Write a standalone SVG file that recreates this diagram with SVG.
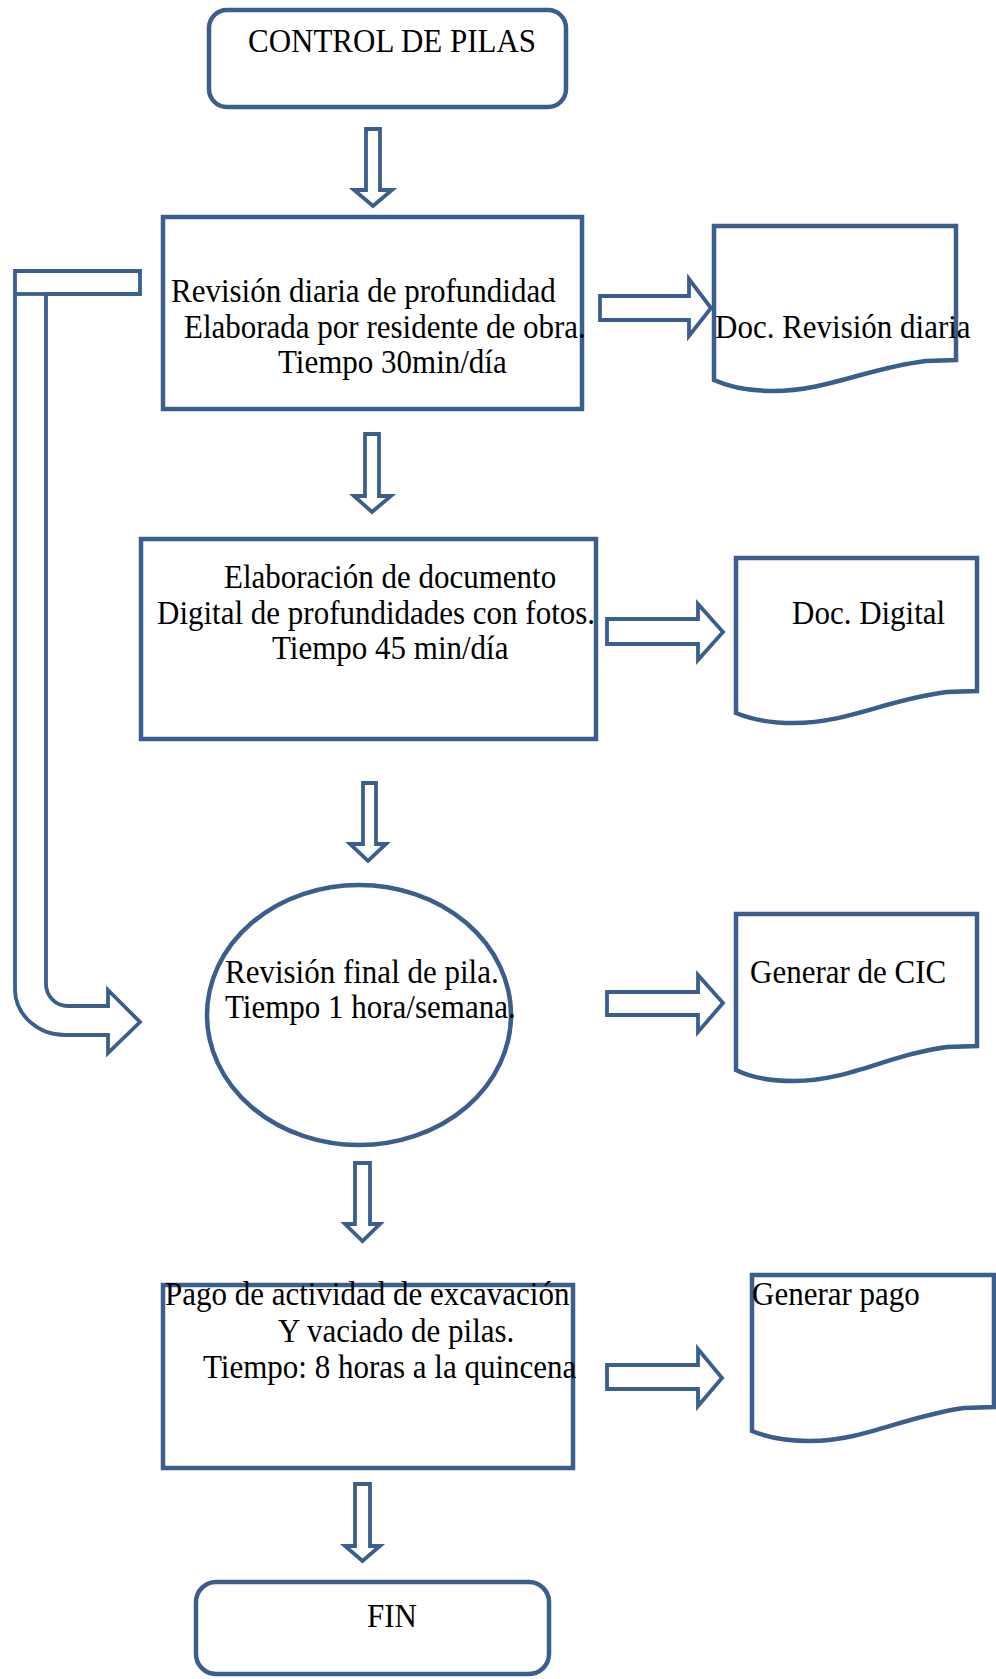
<svg xmlns="http://www.w3.org/2000/svg" width="996" height="1679" viewBox="0 0 996 1679">
<style>
.s{fill:#fff;stroke:#3B5E8C;stroke-width:4.5;stroke-linejoin:miter}
.a{fill:#fff;stroke:#3B5E8C;stroke-width:3.8;stroke-linejoin:miter}
.t{font-family:"Liberation Serif","Times New Roman",serif;font-size:31px;fill:#000}
</style>
<rect width="996" height="1679" fill="#fff"/>
<g id="connectors">
<path class="a" d="M366,129 H380 V190 H392 L373,206 L354,190 H366 Z"/>
<path class="a" d="M365,434 H379 V496 H391 L372,512 L354,496 H365 Z"/>
<path class="a" d="M363,783 H376 V844 H386 L368,861 L350,844 H363 Z"/>
<path class="a" d="M355,1163 H370 V1224 H380 L362.5,1241 L345,1224 H355 Z"/>
<path class="a" d="M355,1484 H370 V1546 H380 L362.5,1561 L345,1546 H355 Z"/>
<path class="a" d="M600,296 H689 V279 L711,308 L689,336 V320 H600 Z"/>
<path class="a" d="M607,619 H698 V604 L723,632 L698,660 V644 H607 Z"/>
<path class="a" d="M607,992 H698 V975 L723,1003 L698,1032 V1015 H607 Z"/>
<path class="a" d="M607,1365 H698 V1349 L722,1378 L698,1406 V1389 H607 Z"/>
<path class="a" d="M140,271 H15 V990 A50,46 0 0 0 65,1035 H108 V1053 L140,1022 L108,990 V1006 H68 A22,22 0 0 1 46,984 V294 H140 Z"/>
<path class="a" d="M15,294 H46" fill="none"/>
</g>
<g id="n1">
<rect class="s" x="209" y="10" width="357" height="97" rx="18"/>
<text class="t" transform="matrix(1,0,0,1.1,248,52)">CONTROL DE PILAS</text>
</g>
<g id="n2">
<rect class="s" x="163" y="217" width="419" height="192"/>
<text class="t" transform="matrix(1,0,0,1.1,171,302)">Revisión diaria de profundidad</text>
<text class="t" transform="matrix(1,0,0,1.1,184,338)">Elaborada por residente de obra.</text>
<text class="t" transform="matrix(1,0,0,1.1,278,373)">Tiempo 30min/día</text>
</g>
<g id="d1">
<path class="s" d="M714,226 H956 V360 L926,361 C867,368 827,391 773,391 C747,391 727,386 714,380 Z"/>
<text class="t" transform="matrix(1,0,0,1.1,715,338)">Doc. Revisión diaria</text>
</g>
<g id="n3">
<rect class="s" x="141" y="539" width="455" height="200"/>
<text class="t" transform="matrix(1,0,0,1.1,224,588)">Elaboración de documento</text>
<text class="t" transform="matrix(1,0,0,1.1,157,624)">Digital de profundidades con fotos.</text>
<text class="t" transform="matrix(1,0,0,1.1,272,659)">Tiempo 45 min/día</text>
</g>
<g id="d2">
<path class="s" d="M736,558 H977 V691 L947,692 C888,699 848,723 794,723 C768,723 748,718 736,713 Z"/>
<text class="t" transform="matrix(1,0,0,1.1,792,624)">Doc. Digital</text>
</g>
<g id="n4">
<ellipse class="s" cx="359" cy="1015" rx="152" ry="130"/>
<text class="t" transform="matrix(1,0,0,1.1,225,983)">Revisión final de pila.</text>
<text class="t" transform="matrix(1,0,0,1.1,225,1018)">Tiempo 1 hora/semana.</text>
</g>
<g id="d3">
<path class="s" d="M736,914 H977 V1046 L947,1047 C888,1055 848,1081 794,1081 C768,1081 748,1076 736,1070 Z"/>
<text class="t" transform="matrix(1,0,0,1.1,750,983)">Generar de CIC</text>
</g>
<g id="n5">
<rect class="s" x="163" y="1285" width="410" height="183"/>
<text class="t" transform="matrix(1,0,0,1.1,165,1305)">Pago de actividad de excavación</text>
<text class="t" transform="matrix(1,0,0,1.1,278,1342)">Y vaciado de pilas.</text>
<text class="t" transform="matrix(1,0,0,1.1,203,1378)">Tiempo: 8 horas a la quincena</text>
</g>
<g id="d4">
<path class="s" d="M752,1275 H994 V1407 L964,1408 C905,1416 864,1441 810,1441 C784,1441 764,1436 752,1431 Z"/>
<text class="t" transform="matrix(1,0,0,1.1,752,1305)">Generar pago</text>
</g>
<g id="n6">
<rect class="s" x="196" y="1582" width="353" height="92" rx="20"/>
<text class="t" transform="matrix(1,0,0,1.1,367,1627)">FIN</text>
</g>
</svg>
